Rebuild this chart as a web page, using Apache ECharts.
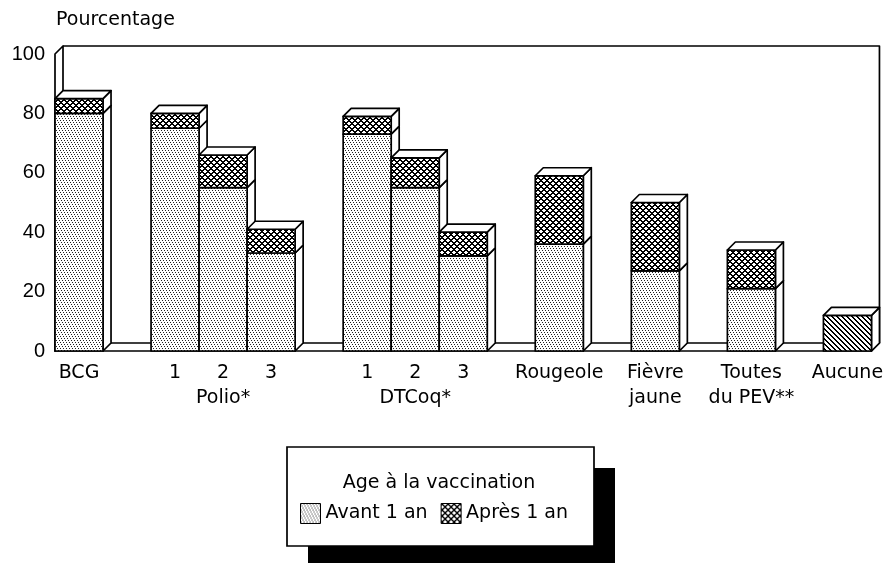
<!DOCTYPE html>
<html>
<head>
<meta charset="utf-8">
<script src="https://cdn.jsdelivr.net/npm/echarts@6/dist/echarts.min.js"></script>
<style>
  html, body { margin: 0; padding: 0; background: #fff; }
  #chart { width: 886px; height: 563px; }
</style>
</head>
<body>
<div id="chart"></div>
<script>
// categories (empty slots are the gaps between groups)
const categories = ['BCG', '', '1', '2\nPolio*', '3', '', '1', '2\nDTCoq*', '3', '',
  'Rougeole', '', 'Fièvre\njaune', '', 'Toutes\ndu PEV**', '', 'Aucune'];
const avant  = [80, null, 75, 55, 33, null, 73, 55, 32, null, 36, null, 27, null, 21, null, null];
const apres  = [5, null, 5, 11, 8, null, 6, 10, 8, null, 23, null, 23, null, 13, null, null];
const aucune = [null, null, null, null, null, null, null, null, null, null, null, null, null, null, null, null, 12];
const yTicks = [0, 20, 40, 60, 80, 100];

const DEPTH = 8;
const LW = 1.7;
const txtFont = 'DejaVu Sans';
const numFont = 'Liberation Sans';

function makePattern(size, ink, inkColor) {
  const c = document.createElement('canvas');
  c.width = size; c.height = size;
  const ctx = c.getContext('2d');
  ctx.fillStyle = '#fff';
  ctx.fillRect(0, 0, size, size);
  ctx.fillStyle = inkColor;
  for (let x = 0; x < size; x++) {
    for (let y = 0; y < size; y++) {
      if (ink(x, y)) ctx.fillRect(x, y, 1, 1);
    }
  }
  return { image: c, repeat: 'repeat' };
}
const dotFill = makePattern(6, (x, y) => y % 2 === 0 && (x + y) % 3 === 0, '#222');
const crossFill = makePattern(6, (x, y) => (x + y) % 6 < 2 || ((x - y) % 6 + 6) % 6 < 2, '#000');
const hatchFill = makePattern(5, (x, y) => ((x - y) % 5 + 5) % 5 < 2, '#000');

// [index, low, high, isTop]
const avantData = [], apresData = [], aucuneData = [];
categories.forEach((c, i) => {
  if (avant[i] != null) avantData.push([i, 0, avant[i], apres[i] == null ? 1 : 0]);
  if (apres[i] != null) apresData.push([i, avant[i] || 0, (avant[i] || 0) + apres[i], 1]);
  if (aucune[i] != null) aucuneData.push([i, 0, aucune[i], 1]);
});

function segmentRenderer(fill, part) {
  return function (params, api) {
    const i = api.value(0);
    const pLo = api.coord([i, api.value(1)]);
    const pHi = api.coord([i, api.value(2)]);
    const w = api.size([1, 0])[0];
    const xl = pLo[0] - w / 2, xr = pLo[0] + w / 2;
    const yb = pLo[1], yt = pHi[1];
    const z = i * 10 + part * 3;
    const line = { stroke: '#000', lineWidth: LW, lineJoin: 'round' };
    const children = [
      { type: 'polygon', z2: z,
        shape: { points: [[xr, yb], [xr, yt], [xr + DEPTH, yt - DEPTH], [xr + DEPTH, yb - DEPTH]] },
        style: Object.assign({ fill: '#fff' }, line) },
      { type: 'rect', z2: z + 1,
        shape: { x: xl, y: yt, width: w, height: yb - yt },
        style: Object.assign({ fill: fill }, line) }
    ];
    if (api.value(3)) {
      children.push({ type: 'polygon', z2: z + 2,
        shape: { points: [[xl, yt], [xr, yt], [xr + DEPTH, yt - DEPTH], [xl + DEPTH, yt - DEPTH]] },
        style: Object.assign({ fill: '#fff' }, line) });
    }
    return { type: 'group', children: children };
  };
}

function frameRenderer(params, api) {
  const w = api.size([1, 0])[0];
  const p0 = api.coord([0, yTicks[0]]);
  const p1 = api.coord([categories.length - 1, yTicks[0]]);
  const pT = api.coord([0, yTicks[yTicks.length - 1]]);
  const x0 = p0[0] - w / 2, x1 = p1[0] + w / 2, y0 = p0[1], yT = pT[1];
  const line = { stroke: '#000', lineWidth: LW, lineJoin: 'round' };
  return { type: 'group', children: [
    { type: 'polygon', shape: { points: [[x0, y0], [x1, y0], [x1 + DEPTH, y0 - DEPTH], [x0 + DEPTH, y0 - DEPTH]] },
      style: Object.assign({ fill: '#fff' }, line) },
    { type: 'polyline', shape: { points: [[x0 + DEPTH, yT - DEPTH], [x1 + DEPTH, yT - DEPTH], [x1 + DEPTH, y0 - DEPTH]] },
      style: Object.assign({ fill: null }, line) },
    { type: 'polygon', shape: { points: [[x0, y0], [x0, yT], [x0 + DEPTH, yT - DEPTH], [x0 + DEPTH, y0 - DEPTH]] },
      style: Object.assign({ fill: '#fff' }, line) }
  ] };
}

const chart = echarts.init(document.getElementById('chart'), null, { renderer: 'canvas' });
chart.setOption({
  backgroundColor: '#fff',
  animation: false,
  grid: { left: 55, right: 12, top: 54, bottom: 212 },
  xAxis: {
    type: 'category',
    data: categories,
    axisLine: { show: false },
    axisTick: { show: false },
    axisLabel: {
      interval: 0, margin: 10, color: '#000',
      fontFamily: txtFont, fontSize: 19, lineHeight: 25
    }
  },
  yAxis: {
    type: 'value',
    min: yTicks[0], max: yTicks[yTicks.length - 1], interval: yTicks[1] - yTicks[0],
    axisLine: { show: false },
    axisTick: { show: false },
    splitLine: { show: false },
    axisLabel: { margin: 10, color: '#000', fontFamily: numFont, fontSize: 20 }
  },
  legend: {
    data: ['Avant 1 an', 'Après 1 an'],
    left: 300, top: 503, padding: 0, z: 10,
    itemWidth: 20, itemHeight: 20, itemGap: 13, icon: 'rect',
    itemStyle: { borderColor: '#000', borderWidth: 1 },
    textStyle: { color: '#000', fontFamily: txtFont, fontSize: 19 },
    selectedMode: false
  },
  graphic: [
    { type: 'text', left: 56, top: 11, z: 10,
      style: { text: 'Pourcentage', fill: '#000', font: '19px "DejaVu Sans"' } },
    { type: 'rect', z: 1, shape: { x: 308, y: 468, width: 307, height: 99 }, style: { fill: '#000' } },
    { type: 'rect', z: 2, shape: { x: 287, y: 447, width: 307, height: 99 },
      style: { fill: '#fff', stroke: '#000', lineWidth: LW } },
    { type: 'text', x: 439, y: 483, z: 10,
      style: { text: 'Age à la vaccination', fill: '#000', font: '19px "DejaVu Sans"',
        textAlign: 'center', textVerticalAlign: 'middle' } }
  ],
  series: [
    { name: 'frame', type: 'custom', z: 1, silent: true, renderItem: frameRenderer,
      encode: { x: 0, y: 1 }, data: [[0, 0]] },
    { name: 'Avant 1 an', type: 'custom', z: 2, renderItem: segmentRenderer(dotFill, 0),
      itemStyle: { color: dotFill }, encode: { x: 0, y: [1, 2] }, data: avantData },
    { name: 'Après 1 an', type: 'custom', z: 2, renderItem: segmentRenderer(crossFill, 1),
      itemStyle: { color: crossFill }, encode: { x: 0, y: [1, 2] }, data: apresData },
    { name: 'Aucune', type: 'custom', z: 2, renderItem: segmentRenderer(hatchFill, 0),
      itemStyle: { color: hatchFill }, encode: { x: 0, y: [1, 2] }, data: aucuneData }
  ]
});
</script>
</body>
</html>
